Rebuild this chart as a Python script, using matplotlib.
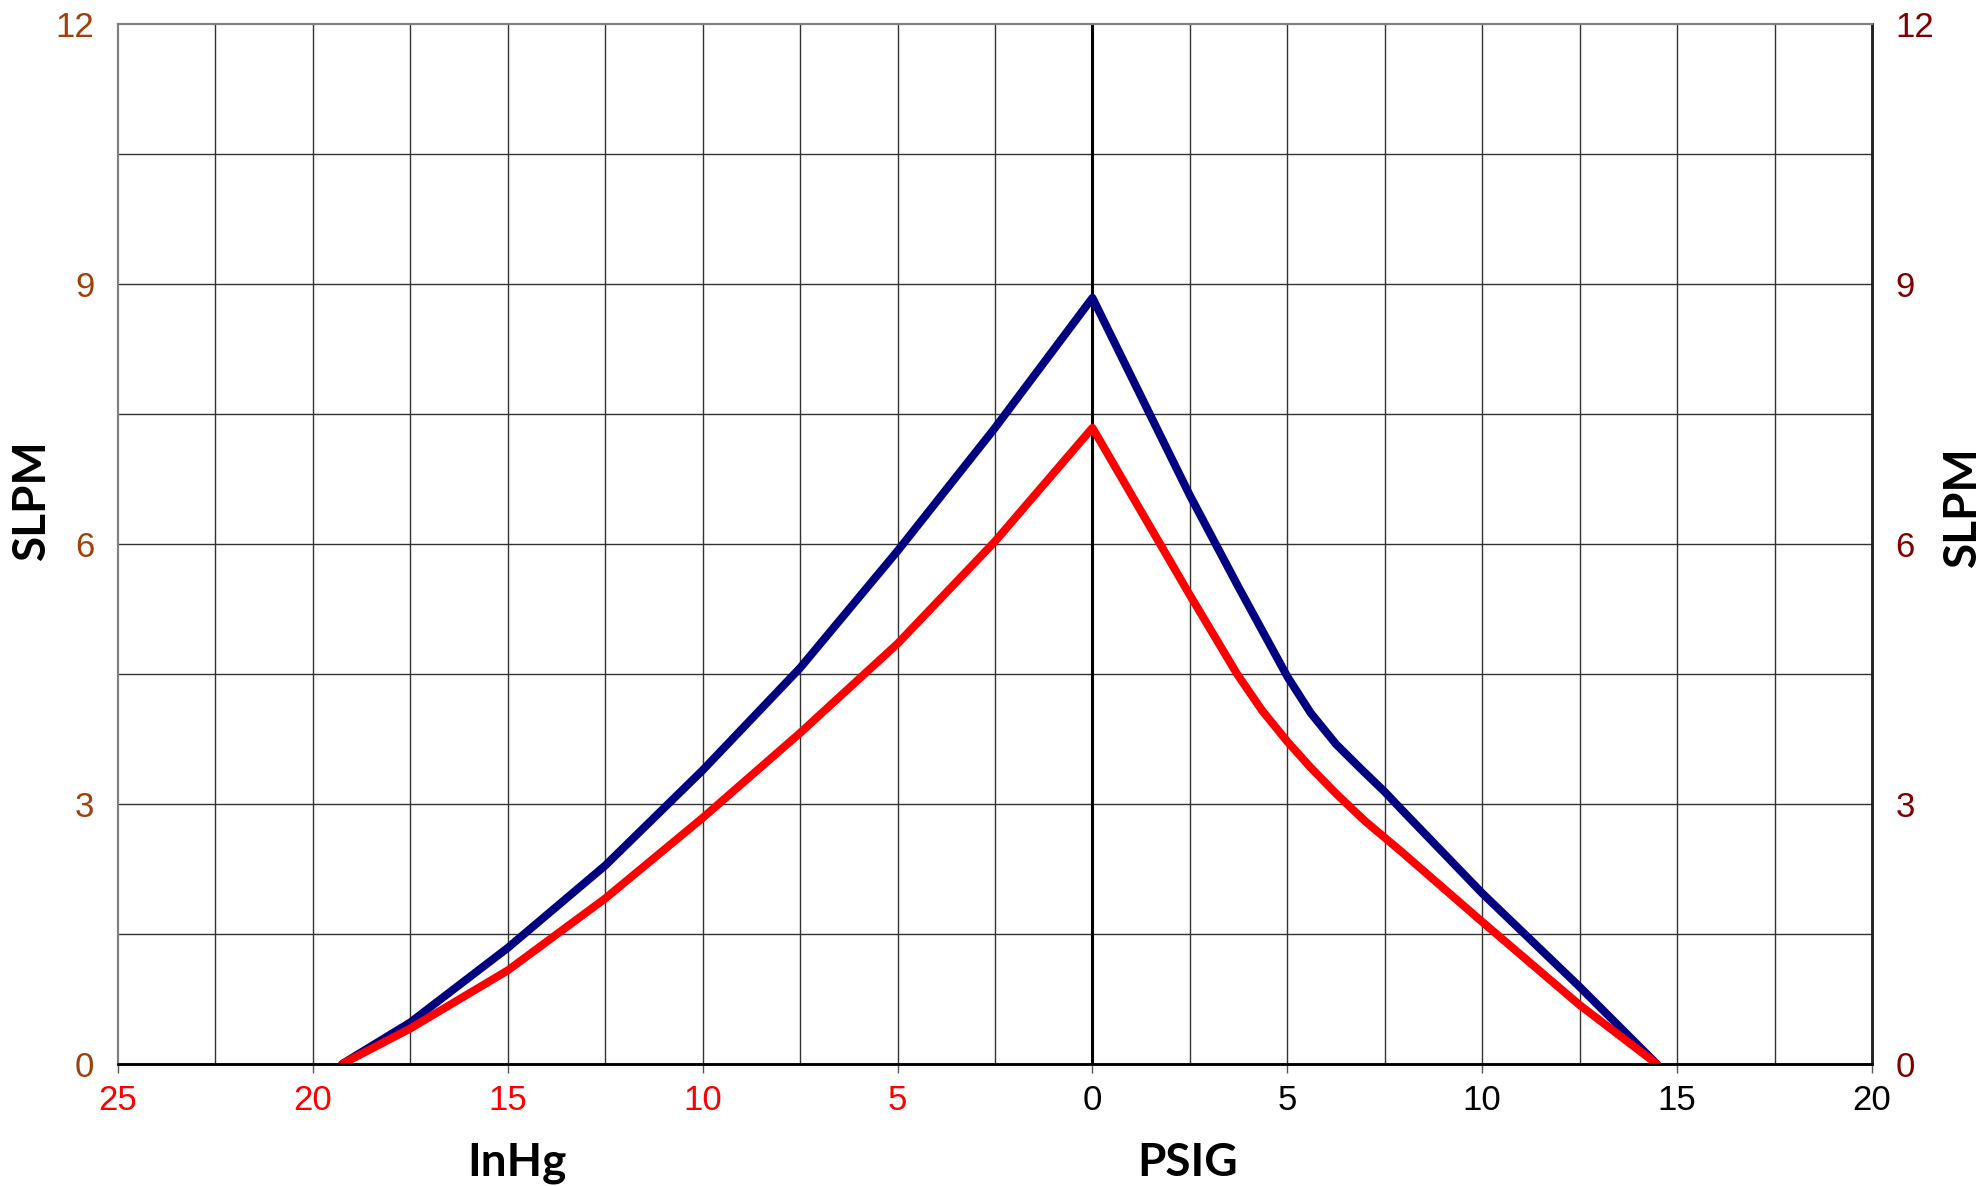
import matplotlib
matplotlib.use('Agg')
import matplotlib.pyplot as plt
import numpy as np

# pressure axis: negative side is vacuum (InHg), positive side is PSIG
blue_x = [-19.25, -17.5, -15, -12.5, -10, -7.5, -5, -2.5, 0,
          1.25, 2.5, 3.75, 5, 5.6, 6.25, 6.9, 7.5, 7.9, 10, 12.5, 14.48]
blue_y = [0, 0.48, 1.34, 2.29, 3.39, 4.57, 5.92, 7.34, 8.84,
          7.70, 6.56, 5.50, 4.47, 4.05, 3.69, 3.40, 3.14, 2.95, 1.97, 0.89, 0]

red_x = [-19.25, -17.5, -15, -12.5, -10, -7.5, -5, -2.5, 0,
         2.5, 3.71, 4.35, 5, 5.6, 6.25, 7.0, 7.9, 10, 12.5, 14.48]
red_y = [0, 0.41, 1.08, 1.91, 2.84, 3.82, 4.85, 6.03, 7.34,
         5.41, 4.50, 4.08, 3.72, 3.42, 3.12, 2.80, 2.46, 1.64, 0.68, 0]

x_ticks = [-25, -20, -15, -10, -5, 0, 5, 10, 15, 20]
x_labels = ['25', '20', '15', '10', '5', '0', '5', '10', '15', '20']
y_ticks = [0, 3, 6, 9, 12]

fig = plt.figure(figsize=(19.86, 11.86), dpi=100)
ax = fig.add_axes([118 / 1986, 1 - 1064 / 1186, (1872 - 118) / 1986, (1064 - 24) / 1186])

ax.set_xlim(-25, 20)
ax.set_ylim(0, 12)

# grid
for gx in np.arange(-22.5, 20, 2.5):
    if gx == 0:
        continue
    ax.axvline(gx, color='#333333', lw=1.0, zorder=1)
for gy in np.arange(1.5, 12, 1.5):
    ax.axhline(gy, color='#333333', lw=1.0, zorder=1)
ax.axvline(0, color='black', lw=2.2, zorder=2)

ax.plot(blue_x, blue_y, color='#000080', lw=5.8, solid_joinstyle='round',
        solid_capstyle='round', zorder=3)
ax.plot(red_x, red_y, color='#ff0000', lw=5.8, solid_joinstyle='round',
        solid_capstyle='round', zorder=4)

ax.set_xticks(x_ticks)
ax.set_xticklabels(x_labels, family=['Liberation Sans Narrow', 'Liberation Sans', 'DejaVu Sans'],
                   fontsize=25)
for lab, xv in zip(ax.get_xticklabels(), x_ticks):
    lab.set_color('#ff0000' if xv < 0 else 'black')
ax.tick_params(axis='x', direction='out', length=6.5, width=1, color='#555555', pad=8)

ax.set_yticks(y_ticks)
ax.set_yticklabels([str(v) for v in y_ticks], family=['Liberation Sans', 'DejaVu Sans'],
                   fontsize=25, color='#a0410d')
ax.tick_params(axis='y', length=0, pad=17)

ax2 = ax.twinx()
ax2.set_ylim(0, 12)
ax2.set_yticks(y_ticks)
ax2.set_yticklabels([str(v) for v in y_ticks], family=['Liberation Sans', 'DejaVu Sans'],
                    fontsize=25, color='#800000')
ax2.tick_params(axis='y', length=0, pad=17)

for a in (ax, ax2):
    a.spines['left'].set_color('#808080')
    a.spines['left'].set_linewidth(1.5)
    a.spines['top'].set_color('#808080')
    a.spines['top'].set_linewidth(1.5)
    a.spines['right'].set_color('#202020')
    a.spines['right'].set_linewidth(1.8)
    a.spines['bottom'].set_color('black')
    a.spines['bottom'].set_linewidth(1.8)

lab_font = dict(family=['Lato', 'DejaVu Sans'], fontweight='bold', fontsize=33)
fig.text(32 / 1986, 1 - 500 / 1186, 'SLPM', rotation=90, ha='center', va='center', **lab_font)
fig.text(1963 / 1986, 1 - 507 / 1186, 'SLPM', rotation=90, ha='center', va='center', **lab_font)
fig.text(517 / 1986, 1 - 1163 / 1186, 'InHg', ha='center', va='center', **lab_font)
fig.text(1188 / 1986, 1 - 1163 / 1186, 'PSIG', ha='center', va='center', **lab_font)

fig.savefig('out.png', dpi=100)
